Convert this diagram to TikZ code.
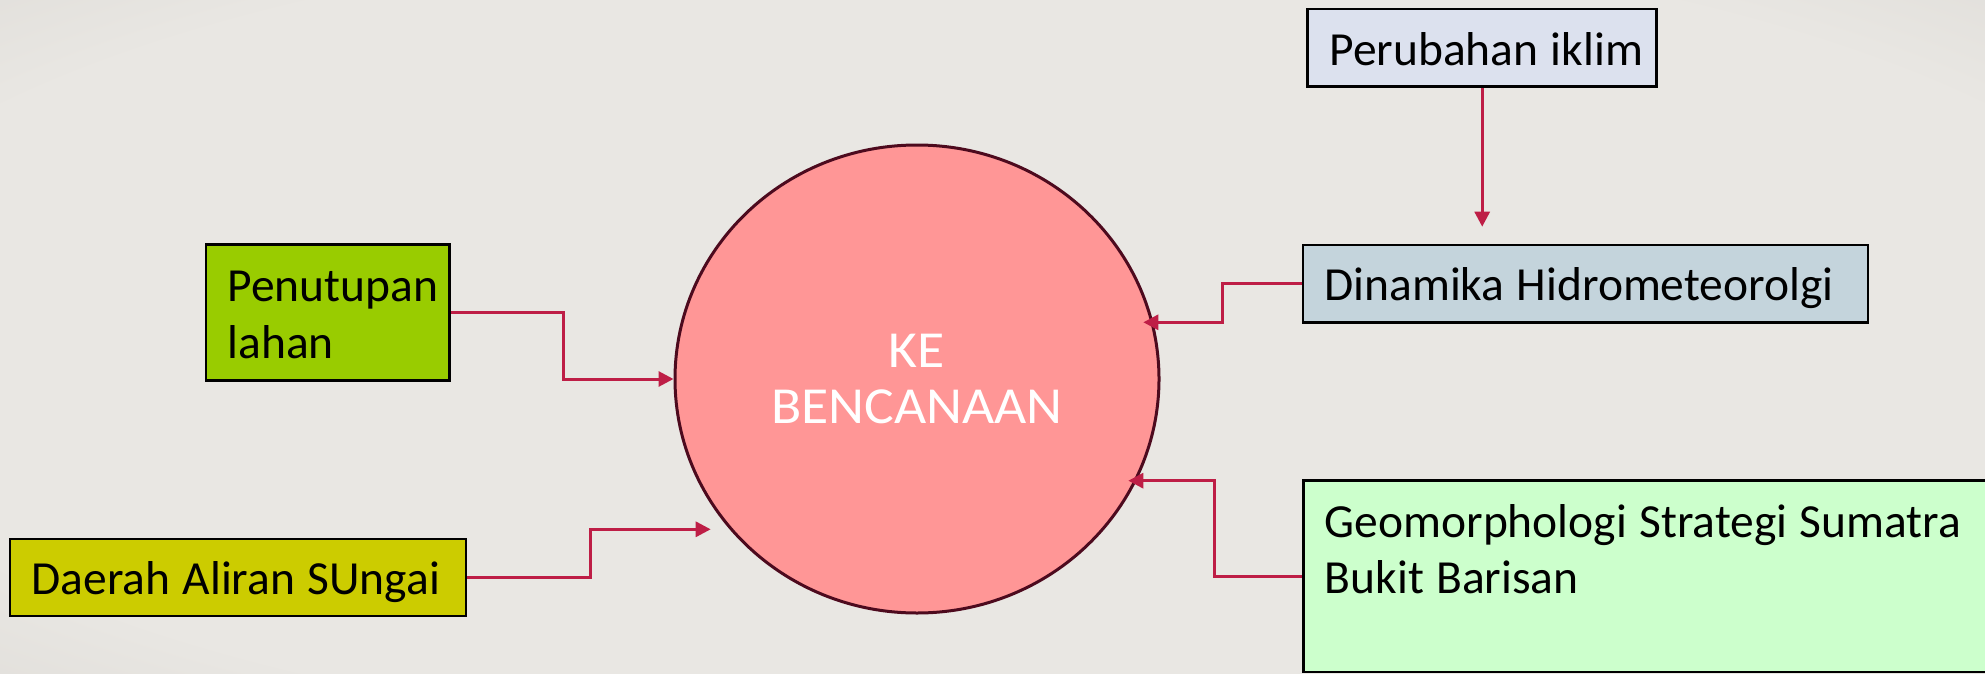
\documentclass[tikz,border=0pt]{standalone}
\usepackage{fontspec}
\setmainfont{Carlito}
\newfontfamily\circfont[FakeStretch=1.07]{Carlito}
\usetikzlibrary{arrows.meta,shapes.geometric}
\definecolor{bgin}{HTML}{E9E7E3}
\definecolor{bgout}{HTML}{D3D0CB}
\definecolor{arrowc}{HTML}{BE1E46}
\definecolor{circfill}{HTML}{FF9696}
\definecolor{circline}{HTML}{4D0A1E}
\definecolor{perfill}{HTML}{DCE1EE}
\definecolor{dinfill}{HTML}{C4D4DC}
\definecolor{penfill}{HTML}{99CC00}
\definecolor{daefill}{HTML}{CCCC00}
\definecolor{geofill}{HTML}{CCFFCC}
\pgfdeclareradialshading{bgshade}{\pgfpoint{0bp}{0bp}}{color(0bp)=(bgin); color(30bp)=(bgin); color(50bp)=(bgout); color(70bp)=(bgout)}
\newcommand{\boxfont}{\fontsize{47.5pt}{56.7pt}\selectfont\hyphenpenalty=10000 }
\begin{document}
\begin{tikzpicture}[x=1pt,y=-1pt,
  box/.style={draw=black, line width=2.5pt, rectangle, inner xsep=21.5pt, inner ysep=0pt, align=left, font=\boxfont, text=black, execute at begin node={\spaceskip=0.26em\relax}},
  conn/.style={draw=arrowc, line width=3pt, -{Triangle[length=15pt,width=15pt]}},
]
\useasboundingbox (0,0) rectangle (1985,674);
\clip (0,0) rectangle (1985,674);
\shade[shading=bgshade] (0,0) rectangle (1985,674);

\node[ellipse, draw=circline, line width=3pt, fill=circfill, minimum width=484pt, minimum height=468pt, inner sep=0pt, align=center, text=white, font=\circfont\fontsize{52pt}{56.7pt}\selectfont] (circ) at (917,379) {KE\\BENCANAAN};

\node[box, fill=perfill, text width=305.5pt, minimum width=349pt, minimum height=77.7pt, text height=34.5pt, text depth=0pt] (perub) at (1482.2,47.9) {Perubahan~iklim};
\node[box, fill=dinfill, text width=522.3pt, minimum width=565.3pt, minimum height=77.3pt, text height=34pt, text depth=0pt] (dinam) at (1585.4,283.7) {Dinamika~Hidrometeorolgi};
\node[box, fill=daefill, text width=413pt, minimum width=456pt, minimum height=77.3pt, text height=35pt, text depth=0pt] (daerah) at (238,577.4) {Daerah~Aliran~SUngai};
\node[box, fill=penfill, text width=200.3pt, minimum width=243.3pt, minimum height=136pt, text height=57pt, text depth=79pt] (pen) at (327.7,312.7) {Penutupan\\lahan};
\node[box, fill=geofill, text width=648.7pt, minimum width=691.7pt, minimum height=191.3pt, text height=56.3pt, text depth=135pt] (geo) at (1649.15,576.35) {Geomorphologi~Strategi~Sumatra\\Bukit~Barisan};

\coordinate (pertip) at (1482.2,226.7);
\coordinate (dintip) at (1143.3,322.3);
\coordinate (geotip) at (1128.3,480.7);
\coordinate (daetip) at (710.7,529.3);

\draw[conn] (perub.south) -- (pertip);
\draw[conn] (pen.east) -- ++(112.4,0) |- (circ.west);
\draw[conn] (daerah.east) -- ++(123,0) |- (daetip);
\draw[conn] (dinam.west) -- ++(-79.4,0) |- (dintip);
\draw[conn] (geo.west) -- ++(-87.6,0) |- (geotip);
\end{tikzpicture}
\end{document}
